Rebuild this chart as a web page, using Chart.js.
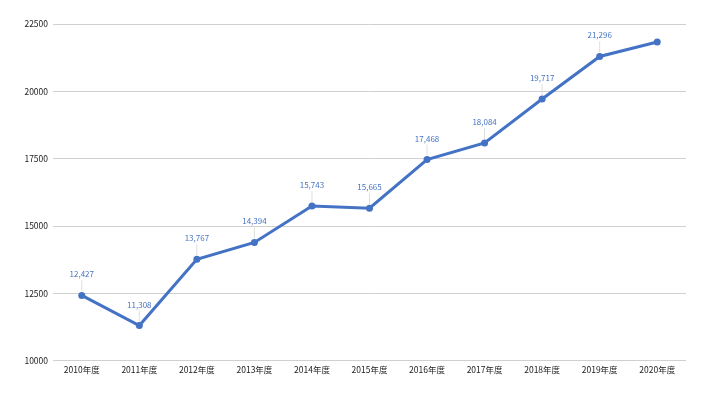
<!DOCTYPE html>
<html>
<head>
<meta charset="utf-8">
<script src="https://cdn.jsdelivr.net/npm/chart.js@4.4.1/dist/chart.umd.min.js"></script>
<style>
  html, body { margin: 0; padding: 0; background: #fff; }
  #wrap { width: 706px; height: 394px; }
</style>
</head>
<body>
<div id="wrap"><canvas id="chartNendo" width="706" height="394"></canvas></div>
<script>
const years = ['2010年度', '2011年度', '2012年度', '2013年度', '2014年度', '2015年度',
  '2016年度', '2017年度', '2018年度', '2019年度', '2020年度'];
const values = [12427, 11308, 13767, 14394, 15743, 15665, 17468, 18084, 19717, 21296, 21830];
const showLabel = [true, true, true, true, true, true, true, true, true, true, false];
const yTicks = [10000, 12500, 15000, 17500, 20000, 22500];

const blue = '#4472C4';
const fontFam = '"Noto Sans CJK JP", "Noto Sans", sans-serif';

// ラベルと引き出し線
const labelPlugin = {
  id: 'pointLabels',
  afterDatasetsDraw(chart) {
    const ctx = chart.ctx;
    const meta = chart.getDatasetMeta(0);
    ctx.save();
    meta.data.forEach((pt, i) => {
      if (!showLabel[i]) return;
      const tx = pt.x, ty = pt.y - 21;
      ctx.strokeStyle = 'rgba(200,200,200,0.6)';
      ctx.lineWidth = 1;
      ctx.beginPath();
      ctx.moveTo(tx, ty + 6);
      ctx.lineTo(tx, pt.y - 4);
      ctx.stroke();
      ctx.fillStyle = blue;
      ctx.font = '8px ' + fontFam;
      ctx.textAlign = 'center';
      ctx.textBaseline = 'middle';
      ctx.fillText(values[i].toLocaleString('en-US'), tx, ty);
    });
    ctx.restore();
  }
};

new Chart(document.getElementById('chartNendo').getContext('2d'), {
  type: 'line',
  data: {
    labels: years,
    datasets: [{
      data: values,
      borderColor: blue,
      backgroundColor: blue,
      borderWidth: 3,
      pointRadius: 3.5,
      pointBackgroundColor: blue,
      pointBorderWidth: 0,
      tension: 0
    }]
  },
  options: {
    responsive: false,
    animation: false,
    layout: { padding: { top: 24, right: 20, bottom: 15, left: 0 } },
    scales: {
      x: {
        offset: true,
        grid: { display: false, drawTicks: false },
        border: { display: false },
        ticks: { color: '#222', font: { size: 8.5, family: fontFam }, maxRotation: 0, padding: 4 }
      },
      y: {
        min: 10000,
        max: 22500,
        afterFit: (s) => { s.width = 53; },
        afterBuildTicks: (s) => { s.ticks = yTicks.map(v => ({ value: v })); },
        grid: { color: '#d0d0d0', lineWidth: 1, drawTicks: false },
        border: { display: false },
        ticks: { color: '#222', font: { size: 8.5, family: fontFam }, padding: 5, callback: (v) => String(v) }
      }
    },
    plugins: {
      legend: { display: false },
      tooltip: { enabled: false }
    }
  },
  plugins: [labelPlugin]
});
</script>
</body>
</html>
